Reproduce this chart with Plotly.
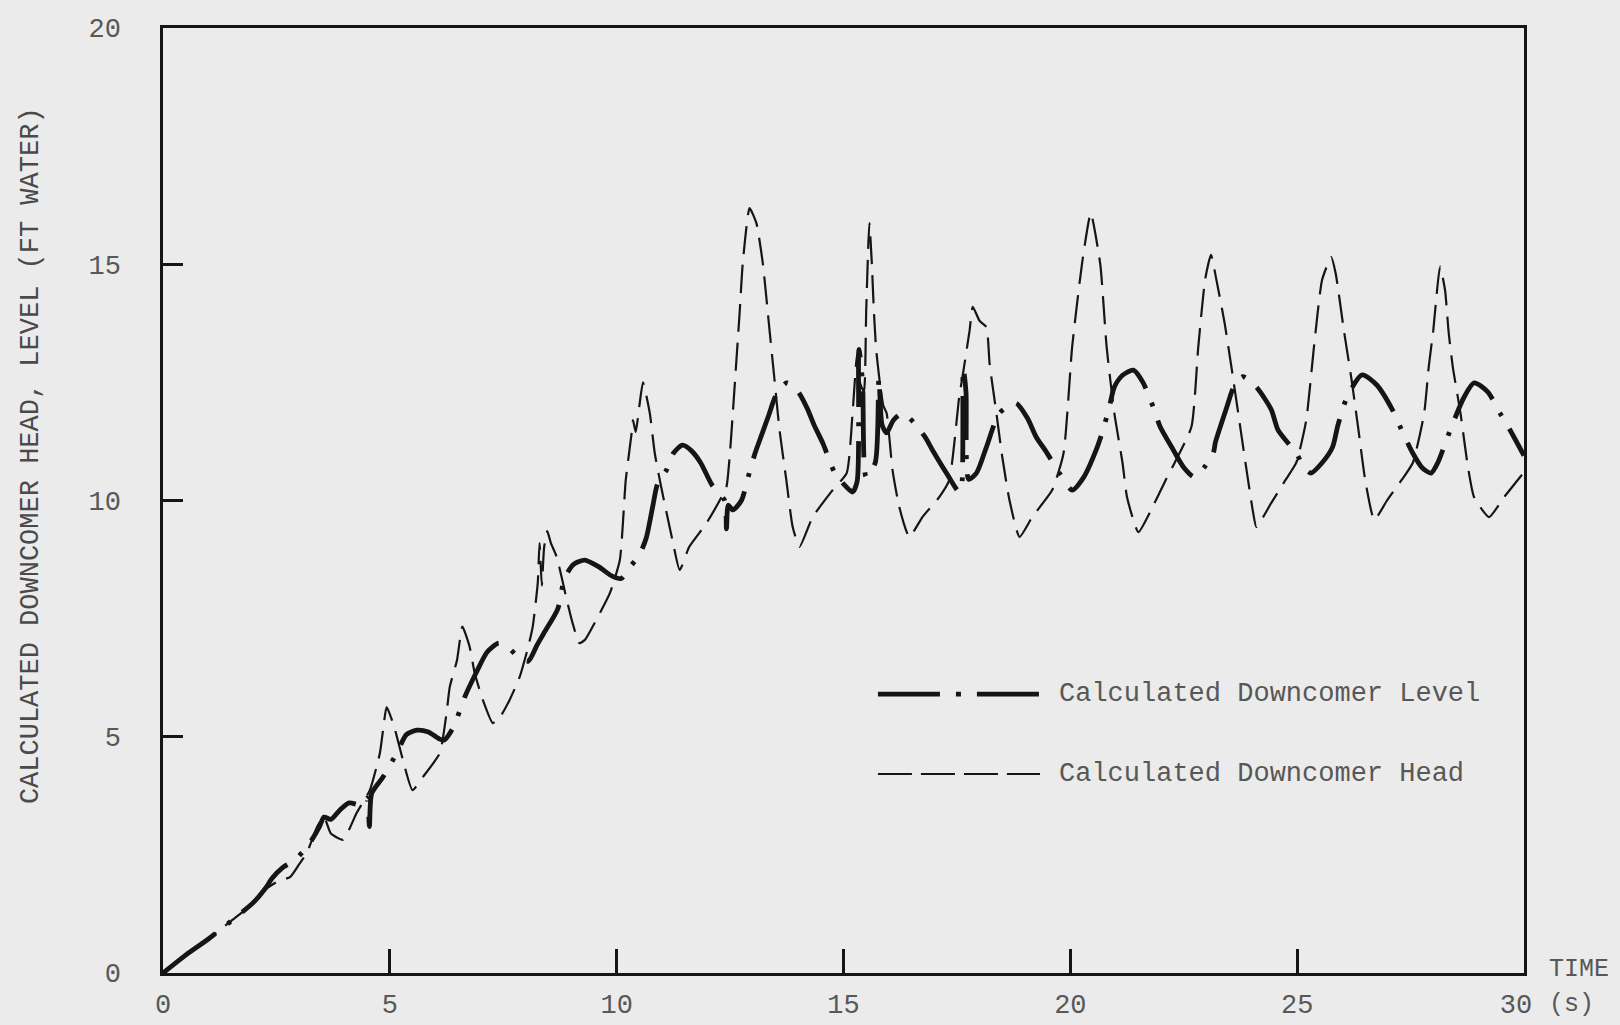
import plotly.graph_objects as go

# ---------------- data ----------------
time_level = [0.0, 0.5, 1.0, 1.5, 2.0, 2.3, 2.4, 2.65, 2.9, 3.2, 3.45, 3.55, 3.7, 3.9, 4.1, 4.4,
              4.5, 4.55, 4.6, 4.85, 5.15, 5.37, 5.6, 5.85, 6.1, 6.2, 6.4, 6.65, 6.9, 7.15, 7.4,
              7.6, 7.85, 8.05, 8.25, 8.4, 8.7, 8.85, 9.05, 9.3, 9.6, 9.9, 10.1, 10.3, 10.5, 10.65,
              10.8, 10.9, 11.1, 11.25, 11.45, 11.65, 11.85, 12.1, 12.38, 12.42, 12.46, 12.56,
              12.75, 12.9, 13.05, 13.2, 13.35, 13.5, 13.75, 14.0, 14.2, 14.35, 14.55, 14.8, 15.05,
              15.2, 15.3, 15.34, 15.42, 15.5, 15.7, 15.78, 15.85, 15.95, 16.1, 16.3, 16.55, 16.8,
              16.96, 17.27, 17.55, 17.6, 17.64, 17.7, 17.76, 17.93, 18.15, 18.44, 18.8, 19.05,
              19.25, 19.47, 19.76, 20.04, 20.3, 20.57, 20.7, 20.86, 20.97, 21.15, 21.39, 21.6,
              21.85, 21.98, 22.27, 22.5, 22.73, 22.95, 23.15, 23.2, 23.45, 23.6, 23.8, 24.1,
              24.43, 24.58, 24.98, 25.15, 25.3, 25.55, 25.78, 25.9, 26.1, 26.43, 26.75, 27.1,
              27.27, 27.55, 27.75, 27.95, 28.1, 28.26, 28.39, 28.68, 28.9, 29.2, 29.47, 29.67, 30.0]
level_ft = [0.0, 0.38, 0.72, 1.1, 1.5, 1.85, 2.0, 2.24, 2.39, 2.7, 3.1, 3.3, 3.25, 3.45, 3.6, 3.55,
            3.7, 3.1, 3.8, 4.15, 4.65, 5.05, 5.14, 5.1, 4.95, 4.93, 5.2, 5.84, 6.35, 6.8, 6.98,
            6.9, 6.67, 6.6, 6.95, 7.2, 7.7, 8.35, 8.65, 8.74, 8.6, 8.4, 8.35, 8.6, 8.85, 9.2,
            9.9, 10.35, 10.65, 11.0, 11.17, 11.05, 10.8, 10.33, 10.0, 9.4, 9.9, 9.8,
            10.0, 10.5, 11.0, 11.4, 11.8, 12.2, 12.49, 12.3, 11.95, 11.6, 11.2, 10.6, 10.3,
            10.18, 10.4, 13.2, 12.5, 10.5, 10.8, 12.6, 11.6, 11.43, 11.7, 11.85, 11.65, 11.34,
            11.07, 10.58, 10.18, 10.25, 12.8, 12.3, 10.45, 10.58, 11.13, 11.85, 12.06, 11.75,
            11.34, 11.03, 10.58, 10.22, 10.5, 11.07, 11.43, 11.98, 12.4, 12.65, 12.76, 12.5,
            11.92, 11.56, 11.07, 10.7, 10.5, 10.7, 11.0, 11.24, 11.98, 12.4, 12.62, 12.4,
            11.92, 11.49, 11.0, 10.7, 10.58, 10.8, 11.13, 11.6, 12.19, 12.66, 12.45, 11.92,
            11.56, 11.0, 10.7, 10.58, 10.8, 11.2, 11.53, 12.19, 12.49, 12.3, 11.85, 11.53, 10.95]

time_head = [0.0, 0.5, 1.0, 1.5, 2.0, 2.3, 2.55, 2.8, 3.0, 3.17, 3.4, 3.55, 3.7, 3.97, 4.27, 4.56,
             4.78, 4.85, 4.93, 5.1, 5.29, 5.5, 5.73, 6.1, 6.25, 6.32, 6.48, 6.6, 6.76, 6.87, 7.05,
             7.27, 7.45, 7.64, 7.86, 8.05, 8.15, 8.26, 8.3, 8.35, 8.4, 8.47, 8.55, 8.68, 8.9,
             9.03, 9.18, 9.3, 9.47, 9.85, 10.07, 10.2, 10.33, 10.36, 10.42, 10.5, 10.58, 10.73,
             10.84, 10.98, 11.1, 11.23, 11.39, 11.6, 11.98, 12.27, 12.42, 12.49, 12.56, 12.71,
             12.78, 12.93, 13.08, 13.22, 13.37, 13.48, 13.59, 13.74, 13.88, 14.03, 14.32, 14.76,
             15.07, 15.2, 15.3, 15.36, 15.45, 15.5, 15.57, 15.62, 15.67, 15.72, 15.8, 15.88,
             15.95, 16.08, 16.23, 16.45, 16.74, 17.11, 17.33, 17.55, 17.62, 17.78, 17.85, 18.0,
             18.15, 18.22, 18.37, 18.5, 18.66, 18.88, 19.16, 19.6, 19.85, 20.04, 20.26, 20.45,
             20.66, 20.8, 20.97, 21.15, 21.25, 21.5, 21.78, 22.1, 22.3, 22.67, 22.82, 22.97,
             23.1, 23.22, 23.4, 23.55, 23.7, 23.86, 24.03, 24.1, 24.43, 24.74, 24.98, 25.2,
             25.37, 25.55, 25.75, 25.85, 26.03, 26.2, 26.35, 26.5, 26.7, 26.98, 27.3, 27.55,
             27.8, 27.9, 28.0, 28.15, 28.26, 28.34, 28.43, 28.6, 28.75, 28.9, 29.23, 29.56, 30.0]
head_ft = [0.0, 0.38, 0.72, 1.1, 1.48, 1.8, 1.95, 2.03, 2.3, 2.54, 3.1, 3.3, 2.95, 2.82, 3.39, 3.87,
           4.65, 5.14, 5.63, 5.2, 4.5, 3.87, 4.15, 4.65, 5.5, 6.05, 6.62, 7.33, 6.9, 6.35, 5.78,
           5.29, 5.45, 5.78, 6.26, 6.9, 7.33, 8.25, 9.1, 8.2, 9.0, 9.35, 9.1, 8.8, 7.9,
           7.4, 6.98, 7.05, 7.33, 8.04, 8.74, 10.43, 11.43, 11.7, 11.45, 12.0, 12.5, 11.85,
           11.0, 10.29, 9.74, 9.16, 8.53, 9.02, 9.52, 10.0, 10.29, 10.92, 11.85, 13.97,
           15.03, 16.19, 15.87, 15.03, 13.6, 12.55, 11.49, 10.43, 9.44, 9.02, 9.65, 10.22,
           10.58, 11.85, 13.1, 12.5, 12.3, 14.0, 15.87, 15.1, 14.0, 13.2, 12.5, 12.0,
           11.85, 10.65, 9.86, 9.23, 9.65, 10.07, 10.43, 12.19, 12.6, 13.6, 14.1, 13.8,
           13.67, 12.9, 11.85, 10.92, 10.0, 9.23, 9.65, 10.22, 11.0, 13.25, 15.03, 16.08,
           15.0, 13.25, 11.85, 10.8, 10.07, 9.33, 9.8, 10.43, 10.8, 11.56, 13.25, 14.67,
           15.2, 14.67, 13.76, 12.83, 11.85, 10.8, 9.74, 9.44, 9.95, 10.43, 10.8, 11.7,
           13.25, 14.67, 15.15, 14.8, 13.6, 12.55, 11.5, 10.43, 9.59, 10.0, 10.43, 10.8,
           11.85, 12.83, 13.6, 14.95, 14.45, 13.55, 12.83, 11.85, 10.8, 10.07, 9.65, 10.07, 10.6]

x_ticks = [0, 5, 10, 15, 20, 25, 30]
x_tick_text = ["0", "5", "10", "15", "20", "25", "30 "]
y_ticks = [0, 5, 10, 15, 20]
level_name = "Calculated Downcomer Level"
head_name = "Calculated Downcomer Head"
y_title = "CALCULATED DOWNCOMER HEAD, LEVEL (FT WATER)"

# ---------------- styling ----------------
BG = "#ebebeb"
INK = "#151515"
TXT = "#585858"
FONT = "Liberation Mono, DejaVu Sans Mono, monospace"
LEVEL_DASH = "66px,15px,4px,15px"
HEAD_DASH = "28px,11px"

fig = go.Figure()
fig.add_trace(go.Scatter(x=time_head, y=head_ft, mode="lines", name=head_name,
                         line=dict(color=INK, width=2.2, dash=HEAD_DASH, shape="spline", smoothing=0.5),
                         showlegend=False))
fig.add_trace(go.Scatter(x=time_level, y=level_ft, mode="lines", name=level_name,
                         line=dict(color=INK, width=4.8, dash=LEVEL_DASH, shape="spline", smoothing=0.7),
                         showlegend=False))

axis_common = dict(showgrid=False, zeroline=False, showline=True, linecolor=INK, linewidth=2.5,
                   mirror=True, ticks="inside", tickcolor=INK, tickwidth=2.5, automargin=False,
                   tickfont=dict(family=FONT, size=27, color=TXT))
fig.update_xaxes(range=[0, 30], tickvals=x_ticks, ticktext=x_tick_text,
                 ticklen=24, ticklabelstandoff=5, **axis_common)
fig.update_yaxes(range=[0, 20], tickvals=y_ticks, ticktext=[str(v) for v in y_ticks],
                 ticklen=20, ticklabelstandoff=34, **axis_common)

# manual legend (paper coordinates)
legend_items = [(level_name, "62px,16px,5px,16px", 4.8, 0.2952), (head_name, "34px,9px", 2.2, 0.2106)]
for name, dash, w, yp in legend_items:
    fig.add_shape(type="line", xref="paper", yref="paper", x0=0.5253, x1=0.6444, y0=yp, y1=yp,
                  line=dict(color=INK, width=w, dash=dash))
    fig.add_annotation(text=name, xref="paper", yref="paper", x=0.6569, y=yp, xanchor="left",
                       yanchor="middle", showarrow=False, font=dict(family=FONT, size=27, color=TXT))

fig.add_annotation(text=y_title, xref="paper", yref="paper", x=-0.097, y=0.548, textangle=-90,
                   xanchor="center", yanchor="middle", showarrow=False,
                   font=dict(family=FONT, size=27, color="#4a4a4a"))
fig.add_annotation(text="TIME", xref="paper", yref="paper", x=1.0169, y=0.004, xanchor="left",
                   yanchor="middle", showarrow=False, font=dict(family=FONT, size=25, color=TXT))
fig.add_annotation(text="(s)", xref="paper", yref="paper", x=1.0169, y=-0.033, xanchor="left",
                   yanchor="middle", showarrow=False, font=dict(family=FONT, size=25, color=TXT))

fig.update_layout(width=1620, height=1025, margin=dict(l=163, r=96, t=28, b=52),
                  paper_bgcolor=BG, plot_bgcolor=BG)

fig.write_html("out.html")
